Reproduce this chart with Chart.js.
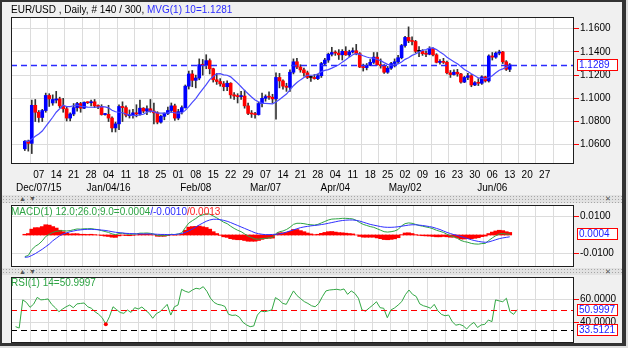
<!DOCTYPE html>
<html>
<head>
<meta charset="utf-8">
<script src="https://cdn.jsdelivr.net/npm/chart.js@4.4.1/dist/chart.umd.min.js"></script>
<style>
  body { margin: 0; background: #dedede; font-family: "Liberation Sans", Arial, sans-serif; }
  #frame { position: absolute; left: 0; top: 0; width: 620px; height: 341px; border: 2px solid #333; border-right-width: 4px; border-bottom-width: 3px; background: #f0f0f0; }
  canvas { position: absolute; left: 0; }
  .sep { position: absolute; left: 2px; width: 620px; background-color: #e2e2e2;
         background-image: radial-gradient(#a6a6a6 0.6px, transparent 0.8px); background-size: 3px 3px; }
  .sep span { position: absolute; font-size: 7px; line-height: 8px; color: #555; }
  .title { position: absolute; left: 11px; font-size: 10px; line-height: 12px; white-space: nowrap; }
</style>
</head>
<body>
<div id="frame"></div>
<div class="sep" style="top:195px;height:8px"><span style="left:17px">&#9650;</span><span style="left:27px">&#9660;</span><span style="left:603px">&#10005;</span></div>
<div class="sep" style="top:268px;height:7px"><span style="left:17px">&#9650;</span><span style="left:27px">&#9660;</span><span style="left:603px">&#10005;</span></div>
<canvas id="main" width="628" height="195" style="top:0"></canvas>
<canvas id="macd" width="628" height="64" style="top:204px"></canvas>
<canvas id="rsi" width="628" height="68" style="top:276px"></canvas>
<div class="title" style="top:4px"><span style="color:#000">EUR/USD , Daily, # 140 / 300, </span><span style="color:#2b2bff">MVG(1) 10=1.1281</span></div>
<div class="title" style="top:206px"><span style="color:#2ea444">MACD(1) 12.0;26.0;9.0=0.0004</span><span style="color:#2b2bff">/-0.0010</span><span style="color:#ff2020">/0.0013</span></div>
<div class="title" style="top:277px"><span style="color:#2ea444">RSI(1) 14=50.9997</span></div>
<script>
// weekly ticks (Mondays) and the month labels under some of them
var weekTickLabels = ['07','14','21','28','04','11','18','25','01','08','15','22','29','07','14','21','28','04','11','18','25','02','09','16','23','30','06','13','20','27'];
var monthTickLabels = ['Dec/07/15','','','','Jan/04/16','','','','','Feb/08','','','','Mar/07','','','','Apr/04','','','','May/02','','','','','Jun/06','','',''];
var firstMonday = 4;   // bar index of Dec 07 (bars start Tue Dec 01)

// daily candles, Dec 01 2015 .. Jun 13 2016
var open = [
  1.0565,1.0630,1.0612,1.0940,1.0880,1.0835,1.0895,1.1025,1.0960,1.0985,
  1.0995,1.0935,1.0910,1.0830,1.0865,1.0920,1.0955,1.0915,1.0965,1.0962,
  1.0970,1.0935,1.0930,1.0860,1.0862,1.0830,1.0745,1.0780,1.0930,1.0920,
  1.0850,1.0855,1.0875,1.0865,1.0915,1.0890,1.0910,1.0890,1.0875,1.0795,
  1.0845,1.0870,1.0895,1.0935,1.0830,1.0885,1.0920,1.1105,1.1210,1.1155,
  1.1175,1.1290,1.1285,1.1325,1.1255,1.1160,1.1145,1.1125,1.1100,1.1130,
  1.1030,1.1020,1.1015,1.1020,1.0935,1.0870,1.0865,1.0860,1.0955,1.1000,
  1.1015,1.1010,1.0995,1.1180,1.1150,1.1105,1.1095,1.1225,1.1315,1.1270,
  1.1245,1.1220,1.1180,1.1180,1.1170,1.1195,1.1300,1.1330,1.1380,1.1395,
  1.1390,1.1375,1.1405,1.1375,1.1400,1.1410,1.1385,1.1270,1.1265,1.1285,
  1.1310,1.1355,1.1290,1.1280,1.1225,1.1260,1.1300,1.1315,1.1350,1.1455,
  1.1525,1.1495,1.1490,1.1405,1.1405,1.1385,1.1380,1.1430,1.1375,1.1310,
  1.1315,1.1310,1.1220,1.1205,1.1225,1.1210,1.1140,1.1180,1.1195,1.1115,
  1.1135,1.1130,1.1185,1.1150,1.1365,1.1355,1.1390,1.1400,1.1315,1.1250];
var high = [
  1.0635,1.0640,1.0985,1.0990,1.0895,1.0905,1.1045,1.1040,1.1030,1.1060,
  1.1010,1.1000,1.0925,1.0875,1.0955,1.0965,1.0965,1.0970,1.0970,1.0985,
  1.0990,1.0945,1.0945,1.0870,1.0940,1.0840,1.0795,1.0945,1.0970,1.0935,
  1.0900,1.0905,1.0945,1.0985,1.0920,1.0935,1.0990,1.0960,1.0885,1.0855,
  1.0875,1.0925,1.0960,1.0950,1.0905,1.0935,1.1115,1.1235,1.1240,1.1200,
  1.1340,1.1335,1.1376,1.1340,1.1260,1.1215,1.1170,1.1145,1.1150,1.1135,
  1.1050,1.1040,1.1060,1.1070,1.0960,1.0895,1.0880,1.0965,1.1045,1.1030,
  1.1055,1.1035,1.1220,1.1215,1.1160,1.1130,1.1245,1.1340,1.1345,1.1290,
  1.1260,1.1235,1.1190,1.1205,1.1210,1.1310,1.1345,1.1390,1.1440,1.1410,
  1.1420,1.1420,1.1445,1.1415,1.1435,1.1465,1.1395,1.1295,1.1300,1.1335,
  1.1395,1.1395,1.1340,1.1290,1.1275,1.1310,1.1340,1.1370,1.1465,1.1535,
  1.1616,1.1530,1.1500,1.1445,1.1420,1.1410,1.1445,1.1435,1.1385,1.1335,
  1.1345,1.1320,1.1240,1.1245,1.1250,1.1215,1.1190,1.1215,1.1205,1.1145,
  1.1170,1.1195,1.1190,1.1375,1.1395,1.1400,1.1415,1.1405,1.1325,1.1300];
var low = [
  1.0550,1.0545,1.0524,1.0800,1.0795,1.0800,1.0880,1.0930,1.0940,1.0960,
  1.0920,1.0880,1.0805,1.0805,1.0850,1.0890,1.0880,1.0910,1.0955,1.0935,
  1.0920,1.0910,1.0855,1.0855,1.0800,1.0710,1.0710,1.0730,1.0800,1.0840,
  1.0830,1.0830,1.0840,1.0855,1.0875,1.0860,1.0880,1.0780,1.0780,1.0785,
  1.0815,1.0860,1.0880,1.0810,1.0815,1.0865,1.0915,1.1080,1.1100,1.1090,
  1.1160,1.1200,1.1255,1.1210,1.1140,1.1120,1.1105,1.1065,1.1065,1.1000,
  1.0990,1.0960,1.0990,1.0915,1.0860,1.0835,1.0830,1.0855,1.0925,1.0975,
  1.0990,1.0960,1.0820,1.1090,1.1080,1.1060,1.1060,1.1210,1.1255,1.1225,
  1.1190,1.1170,1.1145,1.1165,1.1160,1.1180,1.1285,1.1310,1.1365,1.1370,
  1.1335,1.1330,1.1370,1.1360,1.1390,1.1375,1.1265,1.1235,1.1245,1.1280,
  1.1300,1.1285,1.1260,1.1215,1.1215,1.1250,1.1270,1.1300,1.1340,1.1440,
  1.1480,1.1460,1.1390,1.1360,1.1370,1.1360,1.1375,1.1365,1.1305,1.1295,
  1.1300,1.1210,1.1180,1.1200,1.1190,1.1130,1.1135,1.1160,1.1100,1.1110,
  1.1110,1.1120,1.1140,1.1140,1.1330,1.1345,1.1375,1.1300,1.1240,1.1230];
var close = [
  1.0630,1.0612,1.0940,1.0880,1.0835,1.0895,1.1025,1.0995,1.0990,1.0995,
  1.0935,1.0910,1.0830,1.0865,1.0920,1.0955,1.0915,1.0965,1.0962,1.0970,
  1.0935,1.0930,1.0860,1.0862,1.0830,1.0745,1.0780,1.0930,1.0920,1.0855,
  1.0855,1.0875,1.0865,1.0915,1.0890,1.0910,1.0890,1.0875,1.0795,1.0845,
  1.0870,1.0895,1.0935,1.0830,1.0885,1.0920,1.1105,1.1210,1.1155,1.1175,
  1.1290,1.1285,1.1325,1.1255,1.1160,1.1145,1.1125,1.1100,1.1130,1.1030,
  1.1020,1.1015,1.1020,1.0935,1.0870,1.0865,1.0860,1.0955,1.1000,1.1015,
  1.1010,1.0995,1.1180,1.1150,1.1105,1.1095,1.1225,1.1315,1.1270,1.1245,
  1.1220,1.1180,1.1180,1.1170,1.1195,1.1300,1.1330,1.1380,1.1395,1.1390,
  1.1375,1.1405,1.1375,1.1400,1.1410,1.1385,1.1270,1.1265,1.1285,1.1310,
  1.1355,1.1290,1.1280,1.1225,1.1260,1.1300,1.1315,1.1350,1.1455,1.1525,
  1.1495,1.1490,1.1405,1.1405,1.1385,1.1380,1.1430,1.1375,1.1310,1.1315,
  1.1310,1.1220,1.1205,1.1225,1.1210,1.1140,1.1180,1.1195,1.1115,1.1135,
  1.1130,1.1185,1.1150,1.1365,1.1355,1.1390,1.1400,1.1315,1.1250,1.1289];
// 10 day moving average
var ma10 = [
  1.0633,1.0629,1.0650,1.0673,1.0693,1.0718,1.0758,1.0797,1.0837,1.0880,
  1.0910,1.0940,1.0929,1.0928,1.0936,1.0942,1.0931,1.0928,1.0925,1.0923,
  1.0923,1.0925,1.0928,1.0927,1.0918,1.0897,1.0884,1.0880,1.0876,1.0865,
  1.0857,1.0851,1.0852,1.0857,1.0863,1.0880,1.0891,1.0885,1.0873,1.0872,
  1.0873,1.0875,1.0882,1.0874,1.0873,1.0874,1.0896,1.0929,1.0965,1.0998,
  1.1040,1.1079,1.1118,1.1161,1.1188,1.1211,1.1213,1.1202,1.1199,1.1185,
  1.1158,1.1131,1.1100,1.1068,1.1039,1.1011,1.0985,1.0970,1.0957,1.0956,
  1.0955,1.0953,1.0969,1.0990,1.1014,1.1037,1.1073,1.1109,1.1136,1.1159,
  1.1180,1.1199,1.1199,1.1201,1.1210,1.1230,1.1241,1.1247,1.1260,1.1274,
  1.1290,1.1312,1.1332,1.1355,1.1376,1.1385,1.1379,1.1367,1.1356,1.1348,
  1.1346,1.1335,1.1325,1.1308,1.1293,1.1284,1.1289,1.1297,1.1314,1.1336,
  1.1350,1.1370,1.1382,1.1400,1.1413,1.1421,1.1432,1.1435,1.1420,1.1399,
  1.1381,1.1354,1.1334,1.1316,1.1298,1.1274,1.1249,1.1231,1.1212,1.1194,
  1.1176,1.1172,1.1167,1.1181,1.1195,1.1220,1.1242,1.1254,1.1268,1.1283];
var lastPrice = 1.1289;

// MACD(12,26,9)
var macd = [
  -0.0118,-0.0112,-0.0080,-0.0062,-0.0050,-0.0032,-0.0008,0.0004,0.0014,0.0020,
  0.0022,0.0024,0.0022,0.0024,0.0029,0.0033,0.0032,0.0034,0.0034,0.0035,
  0.0032,0.0029,0.0024,0.0019,0.0014,0.0006,0.0002,0.0008,0.0010,0.0006,
  0.0004,0.0005,0.0006,0.0010,0.0010,0.0011,0.0009,0.0005,-0.0003,-0.0004,
  -0.0004,-0.0001,0.0004,0.0002,0.0006,0.0012,0.0040,0.0065,0.0078,0.0090,
  0.0104,0.0110,0.0116,0.0114,0.0104,0.0094,0.0082,0.0070,0.0062,0.0048,
  0.0036,0.0026,0.0018,0.0006,-0.0006,-0.0014,-0.0022,-0.0023,-0.0020,-0.0018,
  -0.0016,-0.0014,0.0008,0.0018,0.0022,0.0030,0.0042,0.0058,0.0064,0.0064,
  0.0062,0.0058,0.0056,0.0054,0.0058,0.0066,0.0074,0.0082,0.0087,0.0088,
  0.0089,0.0091,0.0091,0.0090,0.0088,0.0080,0.0068,0.0058,0.0052,0.0046,
  0.0042,0.0034,0.0026,0.0018,0.0016,0.0018,0.0022,0.0030,0.0050,0.0062,
  0.0066,0.0064,0.0058,0.0052,0.0048,0.0044,0.0040,0.0034,0.0026,0.0020,
  0.0014,0.0004,-0.0004,-0.0010,-0.0018,-0.0030,-0.0036,-0.0040,-0.0046,-0.0049,
  -0.0050,-0.0047,-0.0046,-0.0030,-0.0016,-0.0004,0.0006,0.0008,0.0005,0.0004];
var signal = [
  -0.0122,-0.0120,-0.0112,-0.0102,-0.0090,-0.0078,-0.0064,-0.0050,-0.0032,-0.0018,
  -0.0004,0.0006,0.0012,0.0018,0.0022,0.0026,0.0028,0.0030,0.0031,0.0031,
  0.0030,0.0029,0.0027,0.0025,0.0022,0.0018,0.0015,0.0013,0.0011,0.0009,
  0.0008,0.0007,0.0006,0.0006,0.0006,0.0006,0.0006,0.0005,0.0004,0.0003,
  0.0003,0.0002,0.0002,0.0003,0.0005,0.0008,0.0014,0.0022,0.0032,0.0043,
  0.0055,0.0065,0.0075,0.0082,0.0086,0.0086,0.0084,0.0080,0.0075,0.0068,
  0.0060,0.0052,0.0044,0.0036,0.0028,0.0020,0.0012,0.0007,0.0004,0.0002,
  0.0002,0.0003,0.0004,0.0006,0.0010,0.0016,0.0022,0.0028,0.0034,0.0040,
  0.0044,0.0047,0.0050,0.0052,0.0054,0.0057,0.0060,0.0064,0.0068,0.0072,
  0.0076,0.0079,0.0081,0.0082,0.0082,0.0080,0.0076,0.0070,0.0064,0.0058,
  0.0054,0.0050,0.0046,0.0043,0.0042,0.0042,0.0043,0.0045,0.0048,0.0051,
  0.0054,0.0056,0.0056,0.0054,0.0052,0.0049,0.0046,0.0042,0.0036,0.0030,
  0.0022,0.0014,0.0008,0.0002,-0.0002,-0.0008,-0.0014,-0.0020,-0.0026,-0.0031,
  -0.0035,-0.0038,-0.0040,-0.0038,-0.0032,-0.0026,-0.0020,-0.0016,-0.0013,-0.0010];
var histogram = [
  0.0004,0.0008,0.0032,0.0040,0.0040,0.0046,0.0056,0.0054,0.0046,0.0038,
  0.0026,0.0018,0.0010,0.0006,0.0007,0.0007,0.0004,0.0004,0.0003,0.0004,
  0.0002,0.0000,-0.0003,-0.0006,-0.0008,-0.0012,-0.0013,-0.0005,-0.0001,-0.0003,
  -0.0004,-0.0002,0.0000,0.0004,0.0004,0.0005,0.0003,0.0000,-0.0007,-0.0007,
  -0.0007,-0.0003,0.0002,-0.0001,0.0001,0.0004,0.0026,0.0043,0.0046,0.0047,
  0.0049,0.0045,0.0041,0.0032,0.0018,0.0008,-0.0002,-0.0010,-0.0013,-0.0020,
  -0.0024,-0.0026,-0.0026,-0.0030,-0.0034,-0.0034,-0.0034,-0.0030,-0.0024,-0.0020,
  -0.0018,-0.0017,0.0004,0.0012,0.0012,0.0014,0.0020,0.0030,0.0030,0.0024,
  0.0018,0.0011,0.0006,0.0002,0.0004,0.0009,0.0014,0.0018,0.0019,0.0016,
  0.0013,0.0012,0.0010,0.0008,0.0006,0.0000,-0.0008,-0.0012,-0.0012,-0.0012,
  -0.0012,-0.0016,-0.0020,-0.0025,-0.0026,-0.0024,-0.0021,-0.0015,0.0002,0.0011,
  0.0012,0.0008,0.0002,-0.0002,-0.0004,-0.0005,-0.0006,-0.0008,-0.0010,-0.0010,
  -0.0008,-0.0010,-0.0012,-0.0012,-0.0016,-0.0022,-0.0022,-0.0020,-0.0020,-0.0018,
  -0.0015,-0.0009,-0.0006,0.0008,0.0016,0.0022,0.0026,0.0024,0.0018,0.0014];
var macdLast = 0.0004;

// RSI(14)
var rsi = [
  36.2,35.0,59.5,57.3,53.0,55.8,61.7,59.5,59.8,60.3,
  55.6,52.7,49.2,51.5,53.5,55.0,52.7,56.0,56.4,56.8,
  53.5,52.2,49.2,47.0,44.0,38.4,44.8,53.5,51.0,48.5,
  47.8,50.7,48.6,52.7,51.6,53.3,50.5,47.8,43.5,47.5,
  49.2,52.2,55.6,46.3,53.5,55.0,68.7,67.0,66.0,68.1,
  69.6,69.0,71.0,67.0,61.0,57.3,55.6,55.0,53.8,47.0,
  46.0,46.3,44.5,40.0,37.7,36.2,36.8,46.3,49.8,49.2,
  50.0,50.7,61.5,59.5,56.5,55.6,61.5,67.3,63.2,60.5,
  58.0,56.4,54.4,53.5,56.4,62.3,67.3,68.1,68.4,68.7,
  68.1,69.0,64.3,67.3,65.2,60.9,50.7,49.8,52.5,55.0,
  57.9,52.7,52.2,44.0,50.7,52.5,55.0,58.0,64.0,68.1,
  64.3,62.5,56.0,54.4,53.5,52.2,55.6,50.0,46.9,45.7,
  46.3,40.5,37.5,38.2,37.0,34.2,37.7,39.9,35.5,37.7,
  38.2,42.0,40.6,59.5,58.6,57.9,60.9,49.2,46.9,51.0];
var rsiLast = 50.9997;
var rsiLevel = 33.5121;
var rsiMarkIdx = 25;

var FONT = { family: '"Liberation Sans", Arial, sans-serif', size: 10 };
var GRID = '#dcdcdc';

function pts(arr) { return arr.map(function (v, i) { return { x: i, y: v }; }); }

var panelPlugin = {
  id: 'panel',
  beforeDraw: function (chart) {
    var a = chart.chartArea, ctx = chart.ctx;
    ctx.save();
    ctx.fillStyle = '#fff';
    ctx.fillRect(a.left, a.top, a.right - a.left, a.bottom - a.top);
    ctx.restore();
  },
  afterDatasetsDraw: function (chart, args, opts) {
    var a = chart.chartArea, ctx = chart.ctx, y = chart.scales.y;
    (opts.lines || []).forEach(function (l) {
      var py = Math.round(y.getPixelForValue(l.value)) + 0.5;
      ctx.save();
      ctx.strokeStyle = l.color;
      ctx.lineWidth = l.width || 1;
      ctx.setLineDash([6, 4]);
      ctx.beginPath();
      ctx.moveTo(a.left, py);
      ctx.lineTo(a.right, py);
      ctx.stroke();
      ctx.restore();
    });
  },
  afterDraw: function (chart, args, opts) {
    var a = chart.chartArea, ctx = chart.ctx, y = chart.scales.y;
    ctx.save();
    ctx.strokeStyle = '#1e1e1e';
    ctx.lineWidth = 1;
    ctx.strokeRect(a.left + 0.5, a.top + 0.5, a.right - a.left - 1, a.bottom - a.top - 1);
    (opts.boxes || []).forEach(function (v) {
      var py = Math.round(y.getPixelForValue(v));
      ctx.fillStyle = '#fff';
      ctx.fillRect(a.right + 3, py - 6, 41, 12);
      ctx.strokeStyle = '#ff0000';
      ctx.strokeRect(a.right + 3.5, py - 5.5, 40, 11);
      ctx.fillStyle = '#1a1aff';
      ctx.font = '10px "Liberation Sans", Arial, sans-serif';
      ctx.textBaseline = 'middle';
      ctx.fillText(v.toFixed(4), a.right + 5, py + 0.5);
    });
    ctx.restore();
  }
};

function xAxis(showLabels) {
  return {
    type: 'linear', min: -1.27, max: 154.73,
    afterBuildTicks: function (s) { s.ticks = weekTickLabels.map(function (t, k) { return { value: firstMonday + 5 * k }; }); },
    afterFit: function (s) { s.height = showLabels ? 31 : 0; s.paddingLeft = 0; s.paddingRight = 0; },
    grid: { color: GRID, drawTicks: false },
    border: { display: false },
    ticks: {
      display: showLabels, autoSkip: false, maxRotation: 0, padding: 5, color: '#000',
      font: { family: FONT.family, size: FONT.size, lineHeight: 1.3 },
      callback: function (v) {
        var k = Math.round((v - firstMonday) / 5);
        return monthTickLabels[k] ? [weekTickLabels[k], monthTickLabels[k]] : weekTickLabels[k];
      }
    }
  };
}

function yAxis(min, max, tickValues) {
  return {
    position: 'right', min: min, max: max,
    afterBuildTicks: function (s) { s.ticks = tickValues.map(function (v) { return { value: v }; }); },
    afterFit: function (s) { s.width = 54; s.paddingTop = 0; s.paddingBottom = 0; },
    grid: { color: GRID, tickColor: '#ff0000', tickLength: 5 },
    border: { display: false },
    ticks: { padding: 1, color: '#000', font: FONT, callback: function (v) { return v.toFixed(4); } }
  };
}

function baseOptions(pad, x, y, plug) {
  return {
    responsive: false, animation: false, events: [],
    layout: { padding: pad },
    scales: { x: x, y: y },
    plugins: { legend: { display: false }, tooltip: { enabled: false }, panel: plug }
  };
}

var bodyColors = close.map(function (c, i) { return c > open[i] ? '#0000ff' : (c < open[i] ? '#ff0000' : '#000'); });

new Chart(document.getElementById('main'), {
  type: 'bar',
  data: {
    datasets: [
      { type: 'line', data: pts(ma10), borderColor: '#4a4aff', borderWidth: 1.2, pointRadius: 0, order: 0 },
      { data: close.map(function (c, i) { return { x: i, y: [open[i], c] }; }), backgroundColor: bodyColors,
        barThickness: 3, minBarLength: 1, grouped: false, order: 1 },
      { data: high.map(function (h, i) { return { x: i, y: [low[i], h] }; }), backgroundColor: '#333',
        barThickness: 1, grouped: false, order: 2 }
    ]
  },
  options: baseOptions({ left: 11, top: 17, right: 0, bottom: 0 }, xAxis(true),
    yAxis(1.0434, 1.1701, [1.06, 1.08, 1.10, 1.12, 1.14, 1.16]),
    { lines: [{ value: lastPrice, color: '#2b2bff', width: 1.4 }], boxes: [lastPrice] }),
  plugins: [panelPlugin]
});

new Chart(document.getElementById('macd'), {
  type: 'bar',
  data: {
    datasets: [
      { type: 'line', data: pts(signal), borderColor: '#3030ff', borderWidth: 1, pointRadius: 0, order: 0 },
      { type: 'line', data: pts(macd), borderColor: '#2ea444', borderWidth: 1, pointRadius: 0, order: 1 },
      { data: pts(histogram), backgroundColor: '#ff0000', barThickness: 4, grouped: false, order: 2 }
    ]
  },
  options: baseOptions({ left: 11, top: 1, right: 0, bottom: 1 }, xAxis(false),
    yAxis(-0.0175, 0.0164, [-0.01, 0.01]), { boxes: [macdLast] }),
  plugins: [panelPlugin]
});

new Chart(document.getElementById('rsi'), {
  type: 'line',
  data: {
    datasets: [
      { data: pts(rsi), borderColor: '#33a845', borderWidth: 1,
        pointRadius: function (c) { return c.dataIndex === rsiMarkIdx ? 2 : 0; },
        pointBackgroundColor: '#ff0000', pointBorderWidth: 0 }
    ]
  },
  options: baseOptions({ left: 11, top: 1, right: 0, bottom: 1 }, xAxis(false),
    yAxis(22, 79.4, [40, 60]),
    { lines: [{ value: rsiLast, color: '#ff0000' }, { value: rsiLevel, color: '#000' }], boxes: [rsiLast, rsiLevel] }),
  plugins: [panelPlugin]
});
</script>
</body>
</html>
